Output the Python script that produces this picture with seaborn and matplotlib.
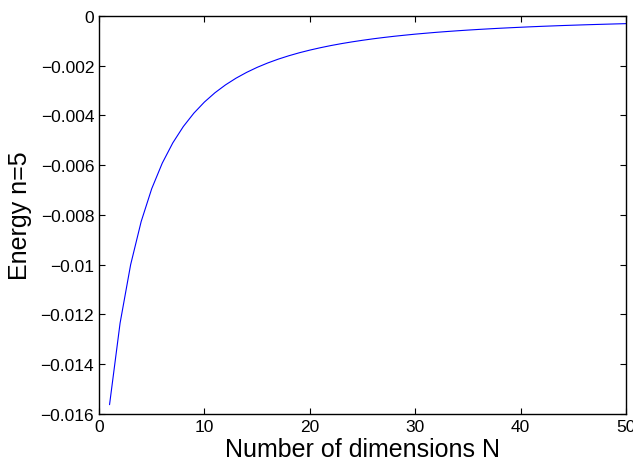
import numpy as np
import pandas as pd
import matplotlib
matplotlib.use("Agg")
import matplotlib.pyplot as plt
import seaborn as sns

# Data
dimensions = list(range(1, 51))
energy = [
    -0.015625, -0.012346, -0.010000, -0.008264, -0.006944,
    -0.005917, -0.005102, -0.004444, -0.003906, -0.003460,
    -0.003086, -0.002770, -0.002500, -0.002268, -0.002066,
    -0.001890, -0.001736, -0.001600, -0.001479, -0.001372,
    -0.001276, -0.001189, -0.001111, -0.001041, -0.000977,
    -0.000918, -0.000865, -0.000816, -0.000772, -0.000730,
    -0.000693, -0.000657, -0.000625, -0.000595, -0.000567,
    -0.000541, -0.000517, -0.000494, -0.000473, -0.000453,
    -0.000434, -0.000416, -0.000400, -0.000384, -0.000370,
    -0.000356, -0.000343, -0.000331, -0.000319, -0.000308,
]
x_ticks = [0, 10, 20, 30, 40, 50]
y_ticks = [-0.016, -0.014, -0.012, -0.01, -0.008, -0.006, -0.004, -0.002, 0]
y_tick_labels = ["\u22120.016", "\u22120.014", "\u22120.012", "\u22120.01",
                 "\u22120.008", "\u22120.006", "\u22120.004", "\u22120.002", "0"]

sns.set_style("ticks")
plt.rcParams['font.family'] = ['Liberation Sans', 'DejaVu Sans']
plt.rcParams['xtick.direction'] = 'in'
plt.rcParams['ytick.direction'] = 'in'
plt.rcParams['text.color'] = 'black'
plt.rcParams['axes.labelcolor'] = 'black'

df = pd.DataFrame({"N": dimensions, "E": energy})

fig = plt.figure(figsize=(6.33, 4.64), dpi=100)
ax = fig.add_axes([0.1564, 0.1056, 0.989 - 0.1564, 0.9634 - 0.1056])
sns.lineplot(data=df, x="N", y="E", ax=ax, color="#0000ff", linewidth=0.8)

ax.set_xlim(0, 50)
ax.set_ylim(-0.016, 0)
ax.set_xticks(x_ticks)
ax.set_xticklabels([str(t) for t in x_ticks])
ax.set_yticks(y_ticks)
ax.set_yticklabels(y_tick_labels)
ax.tick_params(axis='both', labelsize=12.5, length=4, width=0.8, color='black',
               top=True, right=True, labelcolor='black')
for s in ax.spines.values():
    s.set_visible(True)
    s.set_linewidth(1.0)
    s.set_color('black')
ax.set_xlabel("Number of dimensions N", fontsize=18, labelpad=2, color='black')
ax.set_ylabel("Energy n=5", fontsize=18, labelpad=6, color='black')

fig.savefig("out.png", dpi=100)
